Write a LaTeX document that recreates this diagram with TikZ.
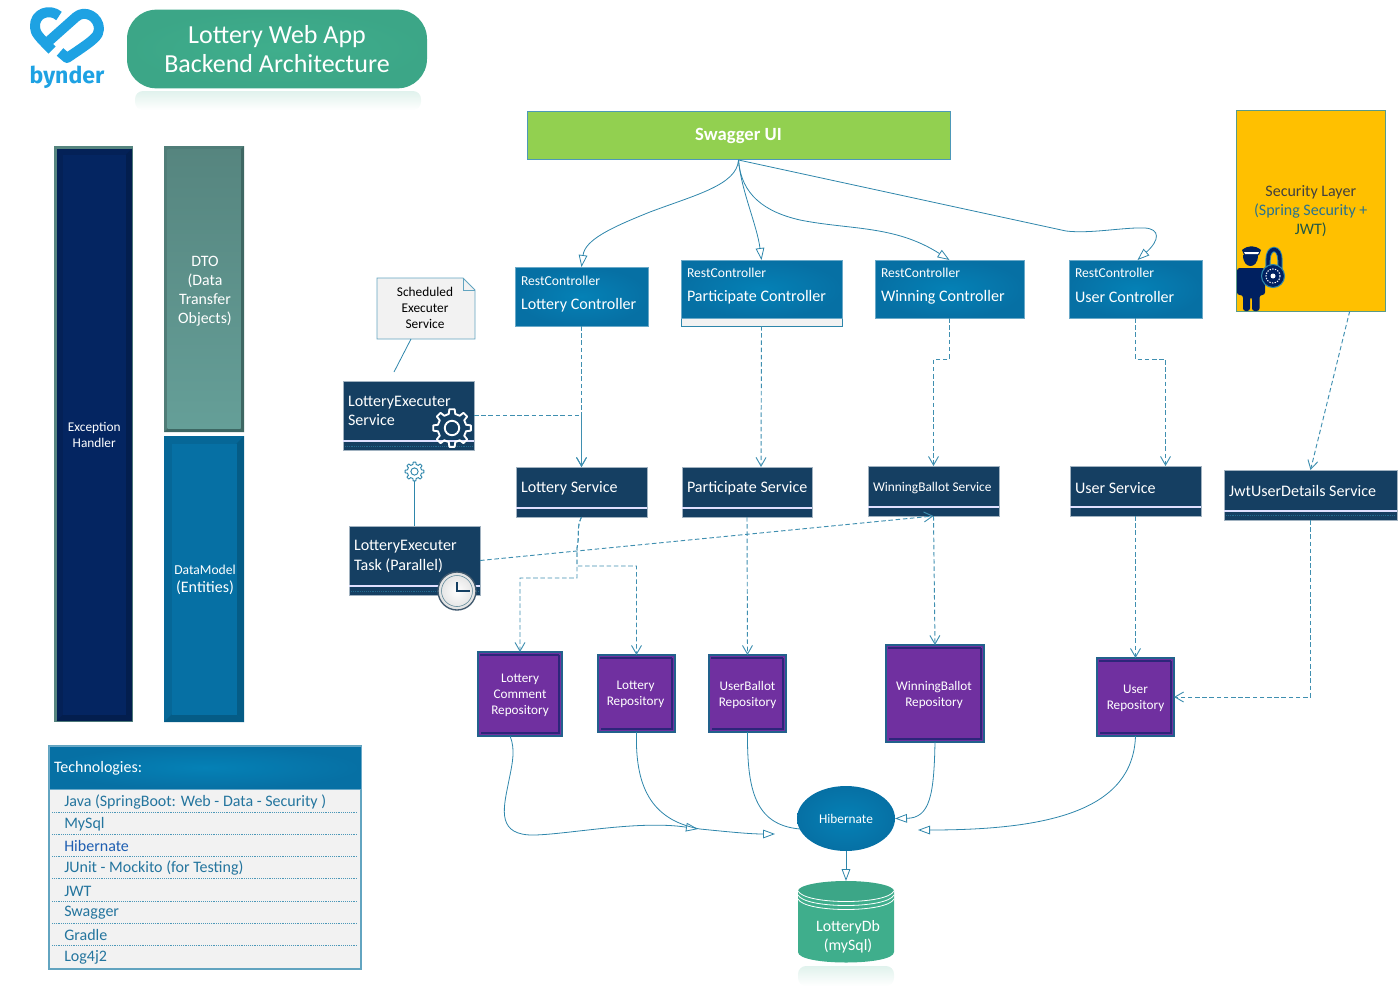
\documentclass[tikz,border=0pt]{standalone}
\usepackage{fontspec}
\setmainfont{Carlito}
\newfontfamily\logofont{Fira Sans}
\usetikzlibrary{arrows.meta,calc,shapes.geometric}
\definecolor{lineblue}{HTML}{2E86AB}
\definecolor{dashblue}{HTML}{3F8FB0}
\definecolor{navybox}{HTML}{153F62}
\definecolor{ctrlout}{HTML}{0670A4}
\definecolor{ctrlin}{HTML}{0581B6}
\definecolor{teal}{HTML}{3FAE8C}
\definecolor{tealdark}{HTML}{3CA687}
\definecolor{purplebox}{HTML}{7030A0}
\definecolor{repoedge}{HTML}{22618C}
\definecolor{logoblue}{HTML}{1EA2E3}
\definecolor{paleband}{HTML}{F2F2F2}
\definecolor{techtext}{HTML}{24759E}
\definecolor{guardnavy}{HTML}{002060}
\definecolor{swaggergreen}{HTML}{92D050}
\definecolor{secyellow}{HTML}{FFC000}
\definecolor{excnavy}{HTML}{042561}
\definecolor{dtotop}{HTML}{56857F}
\definecolor{dtobottom}{HTML}{659F98}
\definecolor{dtoedge}{HTML}{3E6763}
\newcommand\fs[1]{\fontsize{#1}{#1}\selectfont}
\tikzset{
  x=0.75pt,y=-0.75pt,
  rectnode/.style={rectangle,outer sep=0pt,inner sep=0pt,align=center},
  ctrlstyle/.style={rectnode,draw=ctrlout!60!white,line width=.4pt,inner color=ctrlin,outer color=ctrlout},
  svcstyle/.style={rectnode,fill=navybox,draw=navybox!40!white,line width=.3pt},
  repostyle/.style={rectnode,fill=purplebox,draw=repoedge,line width=2pt},
  lbl/.style={inner sep=0pt,outer sep=0pt,anchor=west,align=left,text=white},
  centerlabel/.style={inner sep=0pt,outer sep=0pt,align=center},
  repolabel/.style={centerlabel,text=white,font=\fs{9.9}},
  sublabel/.style={lbl,font=\fs{10.2}},
  mainlabel/.style={lbl,font=\fs{12.05}},
  solidarrow/.style={draw=lineblue,line width=.6pt,-{Triangle[open,length=9pt,width=6.5pt]}},
  solidline/.style={draw=lineblue,line width=.6pt},
  dasharrow/.style={draw=dashblue,line width=.7pt,dash pattern=on 3.4pt off 2pt,-{Straight Barb[length=6.5pt,width=7.5pt]}},
  bandline/.style={draw=white!88!blue,line width=.8pt},
  dotline/.style={draw=lineblue!60!navybox,line width=.6pt,dash pattern=on .7pt off .7pt},
  rowline/.style={draw=lineblue!85!white,line width=.6pt,dash pattern=on .7pt off .7pt},
  rowtext/.style={inner sep=0pt,anchor=west,text=techtext,font=\fs{12}},
}
% name, x1, y1, x2, y2, style, text
\newcommand\pxbox[7]{\node[#6,minimum width={(#4-#2)*0.75pt},minimum height={(#5-#3)*0.75pt}] (#1) at ({(#2+#4)/2},{(#3+#5)/2}) {#7};}
% box name, dx, dy, style, text
\newcommand\boxlabel[5]{\node[#4] (#1-text) at ($(#1.center)+(#2,#3)$) {#5};}
\newcommand\gearicon[5]{% cx, cy, Rout, colour, line width
  \begin{scope}[shift={(#1,#2)}]
    \pgfmathsetmacro\rout{#3}\pgfmathsetmacro\rin{#3*0.76}\pgfmathsetmacro\rhole{#3*0.38}
    \draw[draw=#4,line width=#5,line join=round]
      (-13:\rin) \foreach \a in {0,45,...,315} {-- (\a-13:\rin) -- (\a-8:\rout) -- (\a+8:\rout) -- (\a+13:\rin)} -- cycle;
    \draw[draw=#4,line width=#5] (0,0) circle[radius=\rhole];
  \end{scope}}
% x1,y1,x2,y2,outer colour,dark colour,inset
\newcommand\bevel[7]{%
  \fill[#5] (#1,#2) rectangle (#3,#4);
  \fill[#6] (#1,#4) -- (#3,#4) -- ({#3-#7},{#4-#7}) -- ({#1+#7},{#4-#7}) -- cycle;
  \fill[#6] (#3,#2) -- (#3,#4) -- ({#3-#7},{#4-#7}) -- ({#3-#7},{#2+#7}) -- cycle;
}
\newcommand\repobevel[1]{\draw[draw=guardnavy!60!purplebox,line width=1.3pt] ($(#1.north east)+(-3,3)$) -- ($(#1.south east)+(-3,-3)$) -- ($(#1.south west)+(3,-3)$);
  \draw[draw=guardnavy!60!purplebox,line width=.8pt] ($(#1.north west)+(2,3)$) -- ($(#1.north east)+(-3,3)$);}
\begin{document}
\begin{tikzpicture}
\useasboundingbox (0,0) rectangle (1399,996);
%--- logo
\draw[logoblue,line width=7.5pt,line cap=butt,line join=round]
  (59,16) .. controls (50,8) and (34,13) .. (35,27) .. controls (35,33) and (39,37) .. (52,50);
\draw[logoblue,line width=7.5pt,line cap=butt,line join=round]
  (49,41) -- (76,17) .. controls (85,9) and (99,17) .. (99,29) .. controls (99,36) and (94,40) .. (67,58) -- (60,52);
\node[inner sep=0pt,text=logoblue,font=\logofont\fs{17.3}\bfseries] (bynder) at (67,77) {bynder};
%--- title
\shade[top color=teal!16!white,bottom color=white,rounded corners=6pt,draw=none] (135,91) rectangle (421,110);
\node[rectnode,rounded corners=22pt,inner color=teal,outer color=tealdark,text=white,font=\fs{19.5},minimum width=225pt,minimum height=59pt,align=center] (title) at (277,49) {Lottery Web App\\[2.2pt]Backend Architecture};
%--- sidebars
\fill[dtotop] (54,146) rectangle (133,722);
\bevel{56.5}{148.5}{132}{721}{excnavy!90!black}{excnavy!80!black}{6}
\pxbox{exc}{62.5}{154.5}{126}{715}{rectnode,fill=excnavy,text=white,font=\fs{10}}{Exception\\[2pt]Handler}
\bevel{164}{146}{244}{432}{dtotop!75!dtoedge}{dtoedge}{3.5}
\pxbox{dto}{167.5}{149.5}{240.5}{428.5}{rectnode,top color=dtotop,bottom color=dtobottom}{}
\boxlabel{dto}{1}{2}{centerlabel,text=white,font=\fs{11.9}}{DTO\\[2.3pt](Data\\[2.3pt]Transfer\\[2.3pt]Objects)}
\bevel{164}{436}{244}{722}{ctrlout!92!black}{ctrlout!82!black}{7.5}
\pxbox{dm}{171.5}{443.5}{236.5}{714.5}{rectnode,fill=ctrlout}{}
\boxlabel{dm}{1}{1}{centerlabel,text=white}{{\fs{10.2}DataModel}\\[1.5pt]{\fs{12}(Entities)}}
%--- technologies
\pxbox{techbody}{49}{746}{361}{969}{rectnode,fill=paleband,draw=lineblue!75!white,line width=.9pt}{}
\pxbox{techhead}{49}{746}{361}{789}{ctrlstyle}{}
\node[lbl,font=\fs{12}] (techtitle) at (54,768) {Technologies:};
\foreach \y in {812,834,856,878,901,923,945} {\draw[rowline] (52,\y) -- (357,\y);}
\node[rowtext] (t1) at (64,802) {Java (SpringBoot: Web - Data - Security )};
\node[rowtext] (t2) at (64,824) {MySql};
\node[rowtext,text=techtext!80!blue] (t3) at (64,846) {Hibernate};
\node[rowtext] (t4) at (64,868) {JUnit - Mockito (for Testing)};
\node[rowtext] (t5) at (64,891) {JWT};
\node[rowtext] (t6) at (64,913) {Swagger};
\node[rowtext] (t7) at (64,935) {Gradle};
\node[rowtext] (t8) at (64,957) {Log4j2};
%--- swagger & security
\pxbox{swagger}{527}{111}{950}{159}{rectnode,fill=swaggergreen,draw=lineblue!85!white,line width=.7pt,text=white,font=\fs{14}\bfseries}{\raisebox{-4.3pt}[0pt][0pt]{Swagger UI}}
\pxbox{sec}{1236.5}{110}{1385}{311}{rectnode,fill=secyellow,draw=teal!60!gray,line width=.6pt}{}
\boxlabel{sec}{0}{1}{centerlabel,font=\fs{12}}{\textcolor{black!75}{Security Layer}\\[2.2pt]\textcolor{lineblue!85!black}{(Spring Security +}\\[2.2pt]\textcolor{teal!50!black}{JWT)}}
% guard
\fill[guardnavy] (1242,250) .. controls (1248,245) and (1255,245) .. (1261,250) -- (1259,255) -- (1244,255) -- cycle;
\fill[white] (1244,252) -- (1259,252) -- (1258,254) -- (1245,254) -- cycle;
\fill[guardnavy] (1243,255) -- (1258,255) .. controls (1258,263) and (1254,266) .. (1250.5,266) .. controls (1247,266) and (1243,263) .. (1243,255) -- cycle;
\fill[guardnavy,rounded corners=2pt] (1237,268) -- (1265,268) -- (1265,295) -- (1259.5,295) -- (1259.5,311) -- (1252,311) -- (1252,297) -- (1250,297) -- (1250,311) -- (1243,311) -- (1243,295) -- (1237,295) -- cycle;
% lock
\draw[lineblue,line width=4pt] (1268,272) -- (1268,260) .. controls (1268,246) and (1280,246) .. (1280,260) -- (1280,272);
\draw[guardnavy,line width=2.6pt] (1268,272) -- (1268,260) .. controls (1268,246) and (1280,246) .. (1280,260) -- (1280,272);
\fill[guardnavy,draw=lineblue,line width=.8pt] (1273,276) circle[radius=11.5];
\draw[white,line width=.8pt,dash pattern=on 1pt off 1pt] (1273,276) circle[radius=7];
\fill[white] (1273,276) circle[radius=2.5];
%--- note
\fill[paleband,draw=lineblue!75!white,line width=.7pt] (377,278) -- (463,278) -- (475,290) -- (475,339) -- (377,339) -- cycle;
\draw[lineblue!75!white,line width=.7pt] (463,278) -- (463,290) -- (475,290);
\pxbox{note}{377}{278}{475}{339}{rectnode}{}
\boxlabel{note}{-1}{-1}{centerlabel,text=black,font=\fs{10}}{Scheduled\\[2pt]Executer\\[2pt]Service}
%--- controllers
\pxbox{lc}{515}{267}{648}{326}{ctrlstyle}{}
\pxbox{pcall}{681}{260}{842}{326}{rectnode,fill=paleband,draw=lineblue,line width=.6pt}{}
\pxbox{pc}{681}{260}{842}{318}{ctrlstyle}{}
\pxbox{wc}{875}{260}{1024}{318}{ctrlstyle}{}
\pxbox{uc}{1069}{260}{1202}{318}{ctrlstyle}{}
\node[sublabel] (lc1) at (521,281) {RestController};
\node[mainlabel] (lc2) at (521,305) {Lottery Controller};
\node[sublabel] (pc1) at (687,273) {RestController};
\node[mainlabel] (pc2) at (687,297) {Participate Controller};
\node[sublabel] (wc1) at (881,273) {RestController};
\node[mainlabel] (wc2) at (881,297) {Winning Controller};
\node[sublabel] (uc1) at (1075,273) {RestController};
\node[mainlabel] (uc2) at (1075,297) {User Controller};
%--- services
\pxbox{les}{343}{381}{474}{450}{svcstyle}{}
\pxbox{let}{349}{526}{480}{595}{svcstyle}{}
\pxbox{ls}{516}{467}{647}{517}{svcstyle}{}
\pxbox{ps}{682}{467}{812}{517}{svcstyle}{}
\pxbox{ws}{868}{466}{999}{516}{svcstyle}{}
\pxbox{us}{1070}{466}{1201}{516}{svcstyle}{}
\pxbox{jwt}{1224}{470}{1397}{520}{svcstyle}{}
\draw[bandline] (les.west|-0,441) -- (les.east|-0,441);
\draw[bandline] (let.west|-0,586) -- (let.east|-0,586);
\draw[bandline] (ls.west|-0,508) -- (ls.east|-0,508);
\draw[bandline] (ps.west|-0,508) -- (ps.east|-0,508);
\draw[bandline] (ws.west|-0,507) -- (ws.east|-0,507);
\draw[bandline] (us.west|-0,507) -- (us.east|-0,507);
\draw[bandline] (jwt.west|-0,511) -- (jwt.east|-0,511);
\draw[dotline] (345,446) -- (472,446);
\draw[dotline] (351,591) -- (478,591);
\draw[dotline] (1226,515.5) -- (1395,515.5);
\node[mainlabel] (les1) at (348,411) {LotteryExecuter\\[2.6pt]Service};
\node[mainlabel] (let1) at (354,556.5) {LotteryExecuter\\[2.6pt]Task (Parallel)};
\node[mainlabel] (ls1) at (521,488.5) {Lottery Service};
\node[mainlabel] (ps1) at (687,488.5) {Participate Service};
\node[lbl,font=\fs{10}] (ws1) at (873,488) {WinningBallot Service};
\node[mainlabel] (us1) at (1075,488) {User Service};
\node[mainlabel] (jwt1) at (1229,491) {JwtUserDetails Service};
\gearicon{452}{428}{19}{white}{1.4pt}
\gearicon{414.5}{471.5}{9.5}{lineblue}{.7pt}
\coordinate (smallgear) at (414.5,481);
\draw[solidline] (smallgear) -- (let.north);
%--- repositories
\pxbox{lcr}{478}{652}{562}{736}{repostyle}{}
\pxbox{lr}{598}{655}{675}{732}{repostyle}{}
\pxbox{ubr}{709}{655}{786}{732}{repostyle}{}
\pxbox{wr}{886}{645}{984}{742}{repostyle}{}
\pxbox{ur}{1097}{658}{1174}{736}{repostyle}{}
\repobevel{lcr}\repobevel{lr}\repobevel{ubr}\repobevel{wr}\repobevel{ur}
\boxlabel{lcr}{0}{1}{repolabel}{Lottery\\[2.1pt]Comment\\[2.1pt]Repository}
\boxlabel{lr}{-1}{1}{repolabel}{Lottery\\[2.1pt]Repository}
\boxlabel{ubr}{0}{1}{repolabel}{UserBallot\\[2.1pt]Repository}
\boxlabel{wr}{-1}{1}{repolabel}{WinningBallot\\[2.1pt]Repository}
\boxlabel{ur}{0}{1}{repolabel}{User\\[2.1pt]Repository}
%--- free ends
\coordinate (swg) at (738.5,160);
\coordinate (hl1) at (698,829);
\coordinate (hl2) at (775,834);
\coordinate (hl3) at (800,829);
\coordinate (hr1) at (918,830);
\coordinate (notefoot) at (394,372);
%--- dashed connectors
\draw[solidline] ($(note.south)+(-15,0)$) -- (notefoot);
\draw[dasharrow] (lc.south) -- (ls.north);
\draw[dasharrow] (pcall.south) -- ($(ps.north)+(14,0)$);
\draw[dasharrow] (wc.south) -- (wc.south|-0,359) -- (ws.north|-0,359) -- (ws.north);
\draw[dasharrow] (uc.south) -- (uc.south|-0,359) -- ($(us.north|-0,359)+(30,0)$) -- ($(us.north)+(30,0)$);
\draw[dasharrow] ($(sec.south)+(39,0)$) -- (jwt.north);
\draw[dasharrow] (les.east) -- (ls.north|-les.east) -- (ls.north);
\draw[dasharrow] (ls.south) .. controls (576,528) and (580,535) .. (577,548) -- (577,578) -- (lcr.north|-0,578) -- (lcr.north);
\draw[dasharrow] (ls.south) .. controls (576,528) and (580,535) .. (577,548) -- (577,566) -- (lr.north|-0,566) -- (lr.north);
\draw[dasharrow] (ps.south) -- (ubr.north);
\draw[dasharrow] (ws.south) -- (wr.north);
\draw[dasharrow] (us.south) -- (ur.north);
\draw[dasharrow] (jwt.south) -- (jwt.south|-ur.east) -- (ur.east);
\draw[dasharrow] (let.east) -- (ws.south);
% clock
\shade[inner color=white,outer color=black!12,draw=navybox!60!gray,line width=1pt] (457,591) circle[radius=19];
\draw[lineblue!50!gray,line width=.4pt] (457,591) circle[radius=15.5];
\draw[navybox,line width=1.2pt] (457,582) -- (457,591) -- (470,591);
%--- solid connectors
\draw[solidarrow] (swg) .. controls (737,185) and (695,195) .. (650,212) .. controls (610,228) and (585,240) .. (lc.north);
\draw[solidarrow] (swg) .. controls (741,190) and (757,225) .. (pc.north);
\draw[solidarrow] (swg) .. controls (741,195) and (765,212) .. (800,220) .. controls (850,230) and (895,225) .. (wc.north);
\draw[solidarrow] (swg) -- (1066,231) .. controls (1090,234) and (1125,227) .. (1145,228) .. controls (1160,229) and (1160,240) .. ($(uc.north)+(2,0)$);
\draw[solidarrow] ($(lcr.south)+(-10,0)$) .. controls (516,750) and (512,765) .. (508,785) .. controls (503,810) and (497,836) .. (535,835) .. controls (570,834) and (640,820) .. (hl1);
\draw[solidarrow] (lr.south) .. controls (635,785) and (650,820) .. (700,829) .. controls (730,832) and (750,834) .. (hl2);
\draw[solidline] (ubr.south) .. controls (747,790) and (755,825) .. (hl3);
%--- hibernate & db
\node[ellipse,inner sep=0pt,outer sep=0pt,minimum width=73.5pt,minimum height=48.75pt,inner color=ctrlin,outer color=ctrlout,text=white,font=\fs{10}] (hib) at (846,818.5) {Hibernate};
\shade[top color=teal!16!white,bottom color=white,rounded corners=6pt] (798,966) rectangle (894,986);
\fill[teal] (798,891) -- (798,952) .. controls (798,966) and (894,966) .. (894,952) -- (894,891) -- cycle;
\fill[tealdark] (846,891) ellipse[x radius=48,y radius=10];
\foreach \dy in {0,4,8} {\draw[white,line width=.6pt] (798,{891+\dy}) .. controls (805,{905+\dy}) and (887,{905+\dy}) .. (894,{891+\dy});}
\node[rectnode,minimum width=72pt,minimum height=60.75pt] (db) at (846,921.5) {};
\node[inner sep=0pt,text=white,font=\fs{11.9},align=center] (dbtext) at (848,937) {LotteryDb\\[2.4pt](mySql)};
\draw[solidarrow] (wr.south) .. controls (934,795) and (930,818) .. (hib.east);
\draw[solidarrow] (ur.south) .. controls (1133,810) and (1050,830) .. (hr1);
\draw[solidarrow] (hib.south) -- (db.north);
\end{tikzpicture}
\end{document}
